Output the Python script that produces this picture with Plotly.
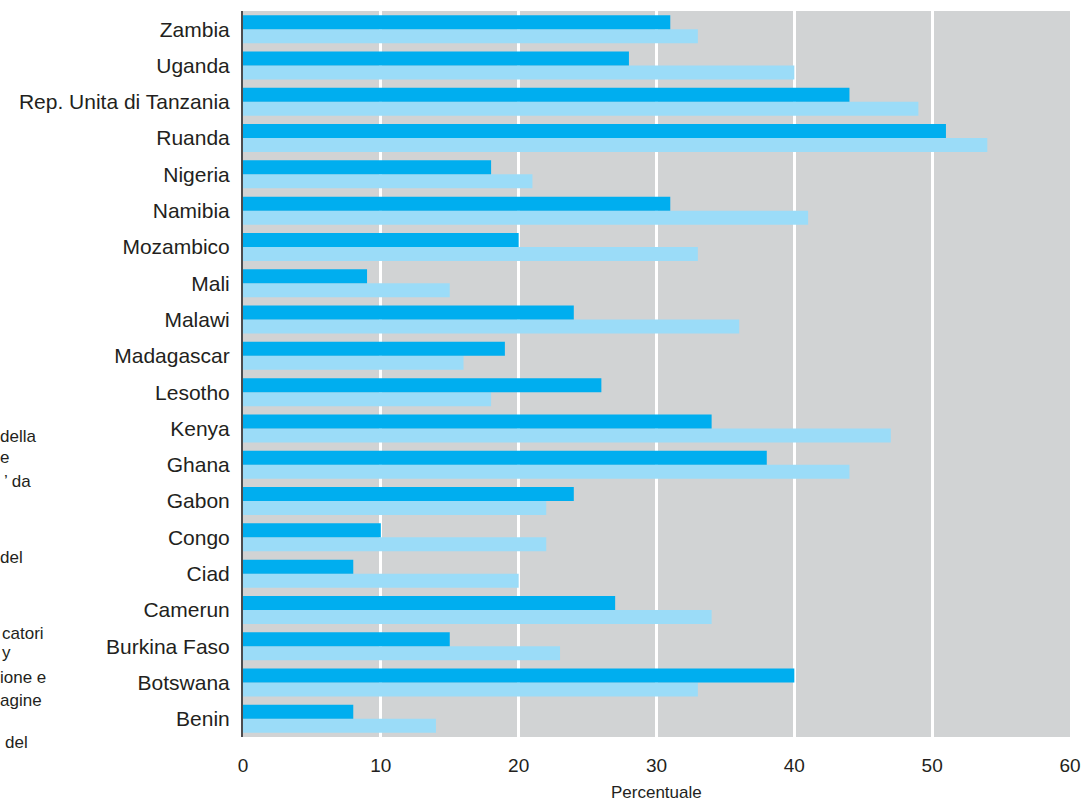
import plotly.graph_objects as go

countries = ["Benin", "Botswana", "Burkina Faso", "Camerun", "Ciad", "Congo", "Gabon",
             "Ghana", "Kenya", "Lesotho", "Madagascar", "Malawi", "Mali", "Mozambico",
             "Namibia", "Nigeria", "Ruanda", "Rep. Unita di Tanzania", "Uganda", "Zambia"]
dark_values = [8, 40, 15, 27, 8, 10, 24, 38, 34, 26, 19, 24, 9, 20, 31, 18, 51, 44, 28, 31]
light_values = [14, 33, 23, 34, 20, 22, 22, 44, 47, 18, 16, 36, 15, 33, 41, 21, 54, 49, 40, 33]
x_ticks = [0, 10, 20, 30, 40, 50, 60]

side_texts = [("della", -2, 436), ("e", -2, 458), ("’ da", 2, 481), ("del", -2, 557),
              ("catori", 0, 633), ("y", 0, 652), ("ione e", -2, 677), ("agine", -2, 700),
              ("del", 3, 742)]

DARK = "#00AEEF"
LIGHT = "#9BDCF8"
TEXT = "#231F20"
FONT = "Liberation Sans, Arial, sans-serif"

fig = go.Figure()
fig.add_trace(go.Bar(y=countries, x=light_values, orientation="h",
                     marker=dict(color=LIGHT, line=dict(width=0)), name="light"))
fig.add_trace(go.Bar(y=countries, x=dark_values, orientation="h",
                     marker=dict(color=DARK, line=dict(width=0)), name="dark"))

W, H = 1089, 801
ml, mr, mt, mb = 243, 19, 11, 64

fig.update_layout(
    width=W, height=H,
    margin=dict(l=ml, r=mr, t=mt, b=mb, autoexpand=False),
    barmode="group", bargap=0.23, bargroupgap=0,
    plot_bgcolor="#D1D3D4", paper_bgcolor="white",
    showlegend=False,
    font=dict(family=FONT, color=TEXT),
    xaxis=dict(range=[0, 60], tickvals=x_ticks, showgrid=True, gridcolor="white",
               gridwidth=3, zeroline=False, ticks="outside", ticklen=11,
               tickcolor="rgba(0,0,0,0)", tickfont=dict(size=19, color=TEXT, family=FONT),
               fixedrange=True),
    yaxis=dict(categoryorder="array", categoryarray=countries, showgrid=False,
               showline=True, linecolor="#4D4D4F", linewidth=2, ticks="outside",
               ticklen=7, tickcolor="rgba(0,0,0,0)",
               tickfont=dict(size=21, color=TEXT, family=FONT), automargin=False),
)

fig.add_annotation(text="Percentuale", xref="paper", yref="paper", x=0.5, y=0,
                   yshift=-55, showarrow=False, yanchor="middle",
                   font=dict(size=17, color=TEXT, family=FONT))

for txt, px, py in side_texts:
    fig.add_annotation(text=txt, xref="paper", yref="paper",
                       x=(px - ml) / (W - ml - mr), y=1 - (py - mt) / (H - mt - mb),
                       xanchor="left", yanchor="middle", showarrow=False,
                       font=dict(size=17, color=TEXT, family=FONT))

fig.write_html("out.html")
